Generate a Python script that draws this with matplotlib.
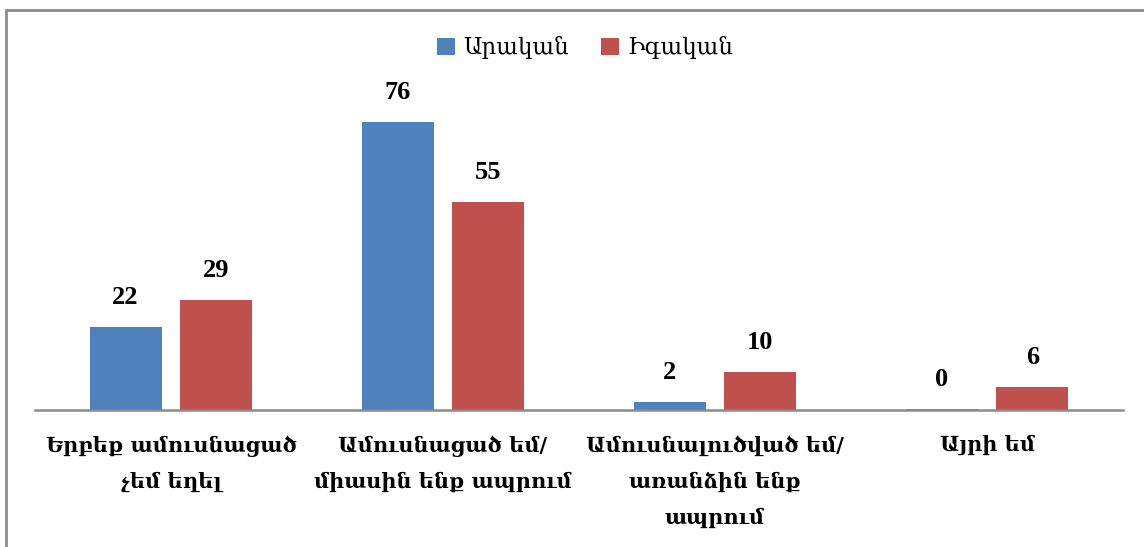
import matplotlib
matplotlib.use("Agg")
import matplotlib.pyplot as plt
import numpy as np
from matplotlib.patches import Rectangle

categories = ["Երբեք ամուսնացած\nչեմ եղել",
              "Ամուսնացած եմ/\nմիասին ենք ապրում",
              "Ամուսնալուծված եմ/\nառանձին ենք\nապրում",
              "Այրի եմ"]
series_names = ["Արական", "Իգական"]
male = [22, 76, 2, 0.3]
female = [29, 55, 10, 6]
colors = ["#4F81BD", "#C0504D"]

arm_font = ["DejaVu Serif"]
num_font = ["Liberation Serif", "DejaVu Serif"]

fig = plt.figure(figsize=(11.44, 5.47), dpi=100)
ax = fig.add_axes([35/1144, 137/547, 1088/1144, 303/547])

x = np.arange(len(categories))
w = 0.265
off = 0.167
b1 = ax.bar(x - off, male, w, color=colors[0], label=series_names[0])
b2 = ax.bar(x + off, female, w, color=colors[1], label=series_names[1])

for bars, vals in ((b1, male), (b2, female)):
    for rect, v in zip(bars, vals):
        ax.annotate(f"{v:.0f}", (rect.get_x() + rect.get_width()/2, rect.get_height()),
                    xytext=(0, 13), textcoords="offset points", ha="center", va="bottom",
                    fontsize=19, fontweight="bold", family=num_font)

ax.set_xlim(-0.5, len(categories) - 0.5)
ax.set_ylim(0, 80)
for s in ["top", "right", "left"]:
    ax.spines[s].set_visible(False)
ax.spines["bottom"].set_color("#8C8C8C")
ax.spines["bottom"].set_linewidth(1.8)
ax.set_yticks([])
ax.set_xticks(x)
ax.set_xticklabels(categories, fontsize=15, fontweight="bold", family=arm_font,
                   linespacing=1.95)
ax.tick_params(axis="x", length=0, pad=18)

leg = fig.legend(loc="center", bbox_to_anchor=(585/1144, 1 - 48/547), ncol=2,
                 frameon=False, prop={"family": arm_font, "size": 16.5},
                 handlelength=0.8, handleheight=0.8, handletextpad=0.35, columnspacing=1.4)

fig.patches.append(Rectangle((6/1144, -0.05), 1.2, 1 - 9.5/547 + 0.05,
                             transform=fig.transFigure, fill=False,
                             edgecolor="#8C8C8C", linewidth=2))

fig.savefig("out.png", dpi=100)
